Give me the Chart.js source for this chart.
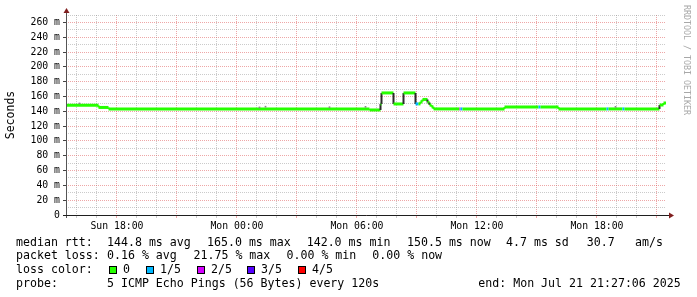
<!DOCTYPE html>
<html>
<head>
<meta charset="utf-8">
<script src="https://cdn.jsdelivr.net/npm/chart.js@4.4.1/dist/chart.umd.min.js"></script>
<style>
  html, body { margin: 0; padding: 0; background: #fff; }
  #wrap { position: relative; width: 697px; height: 297px; overflow: hidden;
          font-family: "DejaVu Sans Mono", monospace; font-size: 11.6px; color: #000; }
  #chart { position: absolute; left: 0; top: 0; }
  .t { position: absolute; white-space: pre; line-height: 14px; }
  .sw { position: absolute; width: 6px; height: 6px; border: 1px solid #000; }
  #mark { position: absolute; left: 682px; top: 5px; writing-mode: vertical-rl;
          font-size: 8.3px; color: #a8a8a8; white-space: pre; line-height: 10px; }
</style>
</head>
<body>
<div id="wrap">
  <canvas id="chart" width="697" height="297"></canvas>
  <div id="legend"></div>
  <div id="mark">RRDTOOL / TOBI OETIKER</div>
</div>
<script>
"use strict";
// time axis is in hours counted from Sun 00:00
const startHour = 15.452;
const endHour = 45.452;
const dayTicks = { 18: "Sun 18:00", 24: "Mon 00:00", 30: "Mon 06:00", 36: "Mon 12:00", 42: "Mon 18:00" };

// median rtt, one entry per step (start hour, ms, lost pings of 5)
const hourStarts = [15.452, 17.077, 17.577, 30.627, 31.177, 31.227, 31.827, 32.327, 32.927, 33.077,
  33.177, 33.277, 33.527, 33.627, 33.727, 33.827, 35.127, 35.177, 35.277, 37.377,
  39.077, 39.177, 40.077, 42.477, 42.577, 43.277, 43.377, 45.127, 45.327];
const medianMs = [148, 145.2, 143.2, 141.8, 150, 164.8, 149.9, 164.8, 150, 150,
  153, 156, 152, 148.5, 146, 143.2, 143.2, 143.2, 143.2, 145.8,
  145.8, 145.8, 143.2, 143.2, 143.2, 143.2, 143.2, 148.5, 151.2];
const lossCount = [0, 0, 0, 0, 0, 0, 0, 0, 1, 0,
  0, 0, 0, 0, 0, 0, 2, 1, 0, 0,
  1, 0, 0, 1, 0, 1, 0, 0, 0];

// a few stray smoke pixels (single slow pings)
const smokeHours = [16.127, 25.127, 25.427, 28.627, 30.427, 42.927];
const smokeMs = [150.6, 145.2, 146.2, 145.5, 146, 146];

const lossLabels = ["0", "1/5", "2/5", "3/5", "4/5"];
const lossColors = ["#26ff00", "#00b8ff", "#d400ff", "#5500ff", "#ff0000"];

const rttStats = ["144.8 ms avg", "165.0 ms max", "142.0 ms min", "150.5 ms now", "4.7 ms sd", "30.7", "am/s"];
const lossStats = ["0.16 % avg", "21.75 % max", "0.00 % min", "0.00 % now"];
const probeText = "5 ICMP Echo Pings (56 Bytes) every 120s";
const endText = "end: Mon Jul 21 21:27:06 2025";

// build step points: each level gets a start and an end point
const points = [];
hourStarts.forEach((t, i) => {
  const tEnd = i + 1 < hourStarts.length ? hourStarts[i + 1] : endHour;
  points.push({ x: t, y: medianMs[i], loss: lossCount[i] });
  points.push({ x: tEnd, y: medianMs[i], loss: lossCount[i] });
});
const smoke = smokeHours.map((t, i) => ({ x: t, y: smokeMs[i] }));

function segColor(ctx) {
  const p0 = ctx.p0.parsed, p1 = ctx.p1.parsed;
  if (p0.x === p1.x) {
    return Math.abs(p1.y - p0.y) > 3 ? "#2a2a2a" : lossColors[points[ctx.p1DataIndex].loss];
  }
  return lossColors[points[ctx.p0DataIndex].loss];
}
function segWidth(ctx) {
  return ctx.p0.parsed.x === ctx.p1.parsed.x ? 2 : 3;
}

const MGRID = "rgba(222,79,79,0.5)";
const GRID = "rgba(140,140,140,0.45)";

// axis lines with rrdtool style arrows
const axisArrows = {
  id: "axisArrows",
  afterDraw(chart) {
    const { ctx, chartArea: a } = chart;
    const x0 = a.left + 0.5, y0 = a.bottom + 0.5;
    ctx.save();
    ctx.lineWidth = 1;
    ctx.strokeStyle = "#555";
    ctx.beginPath();
    ctx.moveTo(x0, a.bottom + 3);
    ctx.lineTo(x0, a.top - 5);
    ctx.stroke();
    ctx.strokeStyle = "#1f1f1f";
    ctx.beginPath();
    ctx.moveTo(a.left - 3, y0);
    ctx.lineTo(a.right + 4, y0);
    ctx.stroke();
    ctx.fillStyle = "#801f1f";
    ctx.beginPath();
    ctx.moveTo(x0 - 3, a.top - 2);
    ctx.lineTo(x0 + 3, a.top - 2);
    ctx.lineTo(x0, a.top - 7);
    ctx.closePath();
    ctx.fill();
    ctx.beginPath();
    ctx.moveTo(a.right + 3, y0 - 3);
    ctx.lineTo(a.right + 3, y0 + 3);
    ctx.lineTo(a.right + 8, y0);
    ctx.closePath();
    ctx.fill();
    ctx.restore();
  }
};

new Chart(document.getElementById("chart"), {
  type: "line",
  data: {
    datasets: [{
      data: smoke,
      showLine: false,
      pointStyle: "rect",
      pointRadius: 1.2,
      pointBorderWidth: 0,
      pointBackgroundColor: "#8a8a8a",
    }, {
      data: points,
      borderWidth: 3,
      pointRadius: 0,
      borderCapStyle: "butt",
      borderJoinStyle: "miter",
      segment: { borderColor: segColor, borderWidth: segWidth },
    }],
  },
  options: {
    responsive: false,
    animation: false,
    devicePixelRatio: 1,
    layout: { padding: { left: 0, top: 15, right: 31, bottom: 62 } },
    plugins: { legend: { display: false }, tooltip: { enabled: false } },
    scales: {
      x: {
        type: "linear",
        min: startHour,
        max: endHour,
        afterFit: (s) => { s.height = 20; },
        afterBuildTicks: (s) => {
          const ticks = [];
          for (let h = Math.ceil(startHour); h <= Math.floor(endHour); h++) ticks.push({ value: h });
          s.ticks = ticks;
        },
        grid: {
          color: (c) => (c.tick && c.tick.value % 3 === 0 ? MGRID : GRID),
          tickColor: (c) => (c.tick && c.tick.value % 3 === 0 ? MGRID : GRID),
          tickLength: 3,
          lineWidth: 1,
        },
        border: { display: false, dash: [1, 1] },
        ticks: {
          autoSkip: false,
          maxRotation: 0,
          padding: 3,
          color: "#000",
          font: { family: "DejaVu Sans Mono", size: 9.8 },
          callback: (v) => dayTicks[v] || "",
        },
      },
      y: {
        min: 0,
        max: 270,
        afterFit: (s) => { s.width = 66; },
        grid: {
          color: (c) => (c.tick && c.tick.value % 20 === 0 ? MGRID : GRID),
          tickColor: (c) => (c.tick && c.tick.value % 20 === 0 ? "#444" : "rgba(0,0,0,0)"),
          tickLength: 3,
          lineWidth: 1,
        },
        border: { display: false, dash: [1, 1] },
        title: {
          display: true,
          text: "Seconds",
          color: "#000",
          font: { family: "DejaVu Sans Mono", size: 11.5 },
          padding: { top: 4, bottom: 0 },
        },
        ticks: {
          stepSize: 10,
          autoSkip: false,
          padding: 3,
          color: "#000",
          font: { family: "DejaVu Sans Mono", size: 9.8 },
          callback: (v) => (v % 20 !== 0 ? "" : v === 0 ? "0" : v + " m"),
        },
      },
    },
  },
  plugins: [axisArrows],
});

// text legend below the graph
const LEGEND = document.getElementById("legend");
function addText(str, left, top) {
  const el = document.createElement("div");
  el.className = "t";
  el.style.left = left + "px";
  el.style.top = top + "px";
  el.textContent = str;
  LEGEND.appendChild(el);
}
const rowTop = [234.5, 248, 262.3, 275.7];
const rttX = [107, 207, 306.7, 407, 506, 586.7, 635];
const lossX = [107, 193.5, 286.5, 372.3];
addText("median rtt:", 16, rowTop[0]);
rttStats.forEach((s, i) => addText(s, rttX[i], rowTop[0]));
addText("packet loss:", 16, rowTop[1]);
lossStats.forEach((s, i) => addText(s, lossX[i], rowTop[1]));
addText("loss color:", 16, rowTop[2]);
const swatchX = [109, 146, 197, 247, 298];
lossLabels.forEach((lbl, i) => {
  const sw = document.createElement("div");
  sw.className = "sw";
  sw.style.left = swatchX[i] + "px";
  sw.style.top = "265.5px";
  sw.style.background = lossColors[i];
  LEGEND.appendChild(sw);
  addText(lbl, swatchX[i] + 14, rowTop[2]);
});
addText("probe:", 16, rowTop[3]);
addText(probeText, 107, rowTop[3]);
addText(endText, 478.3, rowTop[3]);
</script>
</body>
</html>
